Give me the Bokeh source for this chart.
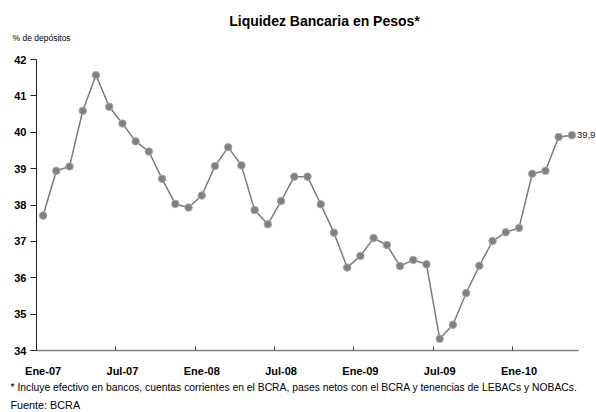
from bokeh.plotting import figure
from bokeh.models import FixedTicker, Label, Range1d
from bokeh.embed import file_html
from bokeh.resources import INLINE

# ---- data ----
months = ["Ene-07", "Feb-07", "Mar-07", "Abr-07", "May-07", "Jun-07",
          "Jul-07", "Ago-07", "Sep-07", "Oct-07", "Nov-07", "Dic-07",
          "Ene-08", "Feb-08", "Mar-08", "Abr-08", "May-08", "Jun-08",
          "Jul-08", "Ago-08", "Sep-08", "Oct-08", "Nov-08", "Dic-08",
          "Ene-09", "Feb-09", "Mar-09", "Abr-09", "May-09", "Jun-09",
          "Jul-09", "Ago-09", "Sep-09", "Oct-09", "Nov-09", "Dic-09",
          "Ene-10", "Feb-10", "Mar-10", "Abr-10", "May-10"]
liquidez = [37.71, 38.94, 39.06, 40.59, 41.57, 40.70, 40.24, 39.75, 39.47, 38.72,
            38.03, 37.93, 38.26, 39.07, 39.59, 39.09, 37.86, 37.47, 38.11, 38.78,
            38.78, 38.02, 37.24, 36.28, 36.60, 37.09, 36.90, 36.32, 36.49, 36.37,
            34.32, 34.71, 35.58, 36.33, 37.01, 37.25, 37.37, 38.86, 38.94, 39.87,
            39.92]
y_ticks = [34, 35, 36, 37, 38, 39, 40, 41, 42]
label_every = 6

title_text = "Liquidez Bancaria en Pesos*"
unit_text = "% de depósitos"
note_text = ("* Incluye efectivo en bancos, cuentas corrientes en el BCRA, pases netos "
             "con el BCRA y tenencias de LEBACs y NOBACs.")
source_text = "Fuente: BCRA"

# ---- layout (pixels of the page) ----
W, H = 596, 412
AX_L, AX_R, AX_T, AX_B = 36, 578, 59, 350   # plotting area edges

n = len(months)
xs = list(range(n))
cx0, cx1 = -0.5, n - 0.5
cy0, cy1 = min(y_ticks), max(y_ticks)
sx = (AX_R - AX_L) / (cx1 - cx0)
sy = (AX_B - AX_T) / (cy1 - cy0)

def dx(px):
    return cx0 + (px - AX_L) / sx

def dy(py):
    return cy0 + (AX_B - py) / sy

p = figure(width=W, height=H, output_backend="svg", toolbar_location=None,
           x_range=Range1d(dx(0), dx(W)), y_range=Range1d(dy(H), dy(0)),
           min_border=0, min_border_left=0, min_border_right=0,
           min_border_top=0, min_border_bottom=0)
p.outline_line_color = None
p.grid.visible = False
p.background_fill_color = "white"
p.border_fill_color = "white"

# series
p.line(xs, liquidez, line_color="#7a7a7a", line_width=1.5)
p.scatter(xs, liquidez, size=7.5, fill_color="#808080", line_color="#a8a8a8",
          line_width=1)

# x axis: labels every 6 months, small ticks between categories
xa = p.xaxis[0]
xa.fixed_location = cy0
xa.bounds = (cx0, cx1)
major = [i for i in xs if i % label_every == 0]
minor = [i - 0.5 for i in xs if i % label_every == 0 and i > 0]
xa.ticker = FixedTicker(ticks=major, minor_ticks=minor)
xa.major_label_overrides = {i: months[i] for i in major}
xa.major_tick_in = 0
xa.major_tick_out = 0
xa.minor_tick_in = 4
xa.minor_tick_out = 0
xa.minor_tick_line_color = "#404040"
xa.axis_line_color = "#808080"
xa.axis_line_width = 1.5
xa.major_label_standoff = 14
xa.major_label_text_font = "Liberation Sans"
xa.major_label_text_font_style = "bold"
xa.major_label_text_font_size = "11px"
xa.major_label_text_color = "black"

ya = p.yaxis[0]
ya.fixed_location = cx0
ya.bounds = (cy0, cy1)
ya.ticker = FixedTicker(ticks=y_ticks, minor_ticks=[])
ya.major_tick_in = 0
ya.major_tick_out = 6
ya.major_tick_line_color = "#202020"
ya.axis_line_color = "#202020"
ya.axis_line_width = 1
ya.major_label_standoff = 4
ya.major_label_text_font = "Liberation Sans"
ya.major_label_text_font_style = "bold"
ya.major_label_text_font_size = "11px"
ya.major_label_text_color = "black"

# last value label
p.add_layout(Label(x=xs[-1], y=liquidez[-1], text=f"{liquidez[-1]:.1f}".replace(".", ","),
                   x_offset=5, text_align="left", text_baseline="middle",
                   text_font="Liberation Sans", text_font_size="9.5px",
                   text_color="#222222"))

# texts
p.add_layout(Label(x=dx(324), y=dy(20), text=title_text, text_align="center",
                   text_baseline="middle", text_font="Liberation Sans",
                   text_font_style="bold", text_font_size="14px", text_color="black"))
p.add_layout(Label(x=dx(12), y=dy(37), text=unit_text, text_align="left",
                   text_baseline="middle", text_font="Liberation Sans",
                   text_font_size="8.5px", text_color="black"))
p.add_layout(Label(x=dx(10), y=dy(387), text=note_text, text_align="left",
                   text_baseline="middle", text_font="Liberation Sans",
                   text_font_size="10.35px", text_color="black"))
p.add_layout(Label(x=dx(10), y=dy(404), text=source_text, text_align="left",
                   text_baseline="middle", text_font="Liberation Sans",
                   text_font_size="10.8px", text_color="black"))

open("out.html", "w").write(file_html(p, INLINE))
